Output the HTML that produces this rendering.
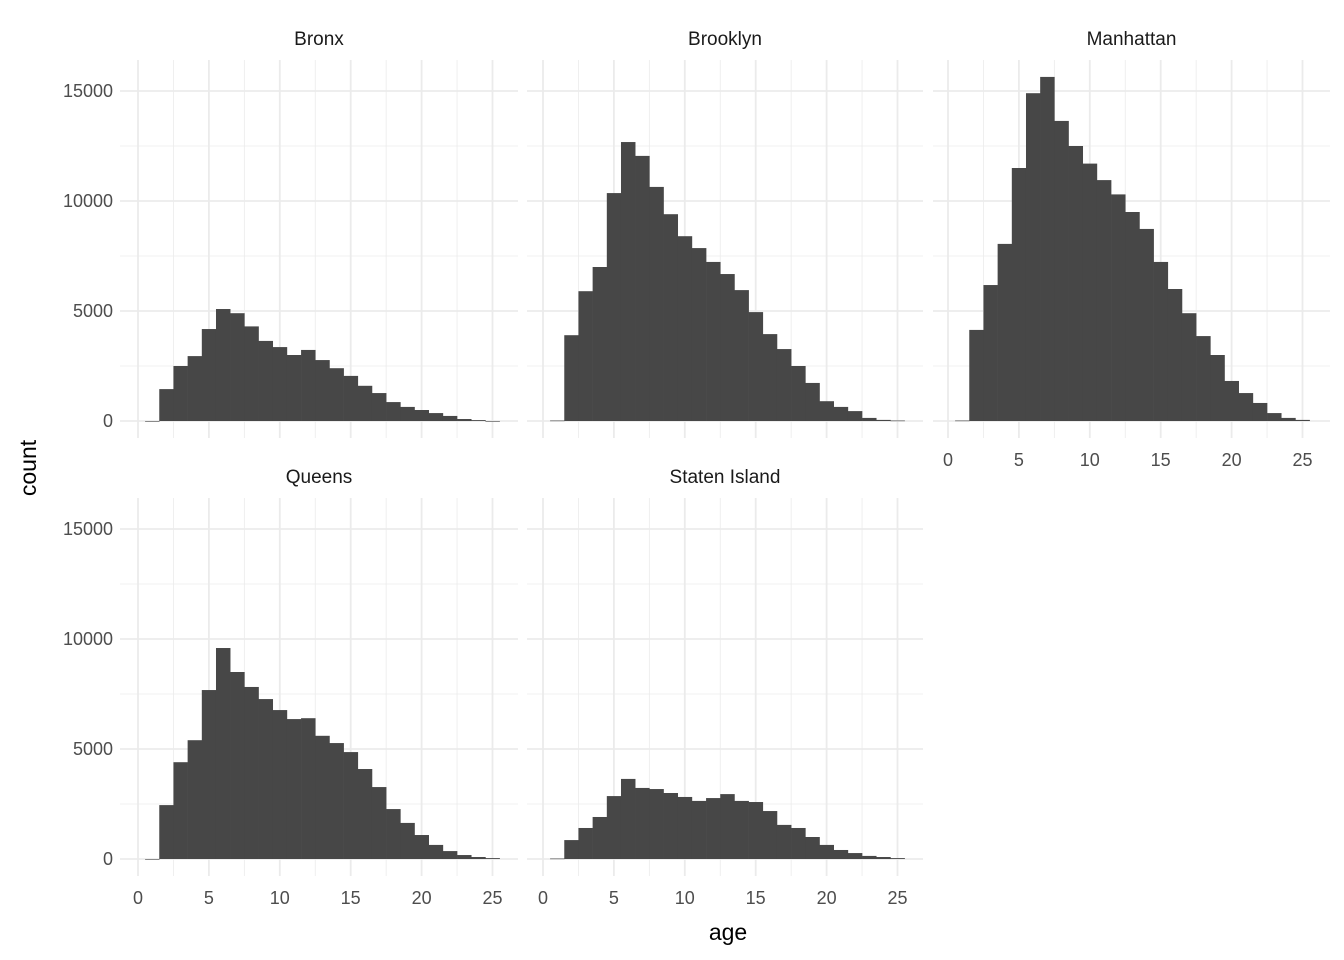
<!DOCTYPE html>
<html><head><meta charset="utf-8"><style>
body{margin:0;background:#fff;}
svg{display:block;font-family:"Liberation Sans",Arial,sans-serif;}
</style></head><body>
<svg id="chart" width="1344" height="960"></svg>
<script>
const panelNames = ["Bronx","Brooklyn","Manhattan","Queens","Staten Island"];
const binCenters = [1,2,3,4,5,6,7,8,9,10,11,12,13,14,15,16,17,18,19,20,21,22,23,24,25];
const bronx = [0,1450,2500,2950,4180,5090,4900,4300,3640,3360,3000,3230,2770,2400,2050,1600,1270,860,640,500,360,230,90,40,0];
const brooklyn = [20,3900,5900,7000,10360,12680,12050,10640,9400,8400,7860,7230,6680,5950,4950,3950,3270,2500,1730,900,640,450,140,50,20];
const manhattan = [20,4140,6180,8050,11500,14900,15640,13640,12500,11700,10950,10300,9500,8730,7230,6000,4900,3860,3000,1820,1270,820,360,140,50];
const queens = [0,2450,4400,5400,7680,9590,8500,7820,7270,6770,6360,6400,5600,5270,4860,4090,3270,2270,1640,1090,640,360,180,90,40];
const statenIsland = [20,860,1410,1910,2860,3640,3230,3180,3000,2820,2640,2770,2950,2640,2590,2180,1550,1410,1000,640,410,270,140,90,40];
const seriesList = [bronx,brooklyn,manhattan,queens,statenIsland];
const xTicks = [0,5,10,15,20,25];
const yTicks = [0,5000,10000,15000];
const binWidth = 1;

const NS="http://www.w3.org/2000/svg";
const svg=document.getElementById('chart');
function mk(tag,attrs,parent){const e=document.createElementNS(NS,tag);for(const k in attrs)e.setAttribute(k,attrs[k]);(parent||svg).appendChild(e);return e;}

const panels=[
 {x0:120,x1:518,y0:60,y1:438,zeroX:138,zeroY:421,xl:false,yl:true},
 {x0:527,x1:923,y0:60,y1:438,zeroX:543,zeroY:421,xl:false,yl:false},
 {x0:933,x1:1330,y0:60,y1:438,zeroX:948,zeroY:421,xl:true,yl:false},
 {x0:120,x1:518,y0:498,y1:876,zeroX:138,zeroY:859,xl:true,yl:true},
 {x0:527,x1:923,y0:498,y1:876,zeroX:543,zeroY:859,xl:true,yl:false}
];
const pxPerX=14.18, pxPerY=0.022;

panels.forEach((p,i)=>{
  const g=mk('g',{});
  
  
  const sx=v=>p.zeroX+v*pxPerX, sy=v=>p.zeroY-v*pxPerY;
  // minor grid
  for(let v=2.5;v<27;v+=5){const x=sx(v);if(x>p.x0&&x<p.x1)mk('line',{x1:x,x2:x,y1:p.y0,y2:p.y1,stroke:'#ebebeb','stroke-width':0.8},g);}
  for(let v=2500;v<17000;v+=5000){const y=sy(v);if(y>p.y0)mk('line',{x1:p.x0,x2:p.x1,y1:y,y2:y,stroke:'#ebebeb','stroke-width':0.8},g);}
  // major grid
  xTicks.forEach(v=>mk('line',{x1:sx(v),x2:sx(v),y1:p.y0,y2:p.y1,stroke:'#ebebeb','stroke-width':1.8},g));
  yTicks.forEach(v=>mk('line',{x1:p.x0,x2:p.x1,y1:sy(v),y2:sy(v),stroke:'#ebebeb','stroke-width':1.8},g));
  // bars
  const data=seriesList[i];
  binCenters.forEach((c,j)=>{
    const h=data[j]*pxPerY;
    const r=mk('rect',{x:sx(c-binWidth/2),y:sy(data[j]),width:binWidth*pxPerX+0.3,height:Math.max(h,0.6),fill:'#474747'},g);
    
    
  });
  // strip title
  const t=mk('text',{x:(p.x0+p.x1)/2,y:p.y0-15,'text-anchor':'middle','font-size':19,fill:'#1a1a1a'},g);
  t.textContent=panelNames[i];
  
  
  if(p.xl) xTicks.forEach(v=>{const e=mk('text',{x:sx(v),y:p.y1+28,'text-anchor':'middle','font-size':18,fill:'#4d4d4d'},g);e.textContent=v;
    
    });
  if(p.yl) yTicks.forEach(v=>{const e=mk('text',{x:p.x0-7,y:sy(v)+6,'text-anchor':'end','font-size':18,fill:'#4d4d4d'},g);e.textContent=v;
    
    });
});
const xt=mk('text',{x:728,y:940,'text-anchor':'middle','font-size':23,fill:'#000'});xt.textContent='age';


const yt=mk('text',{x:0,y:0,'text-anchor':'middle','font-size':23,fill:'#000',transform:'translate(36,468) rotate(-90)'});yt.textContent='count';


</script>
</body></html>
